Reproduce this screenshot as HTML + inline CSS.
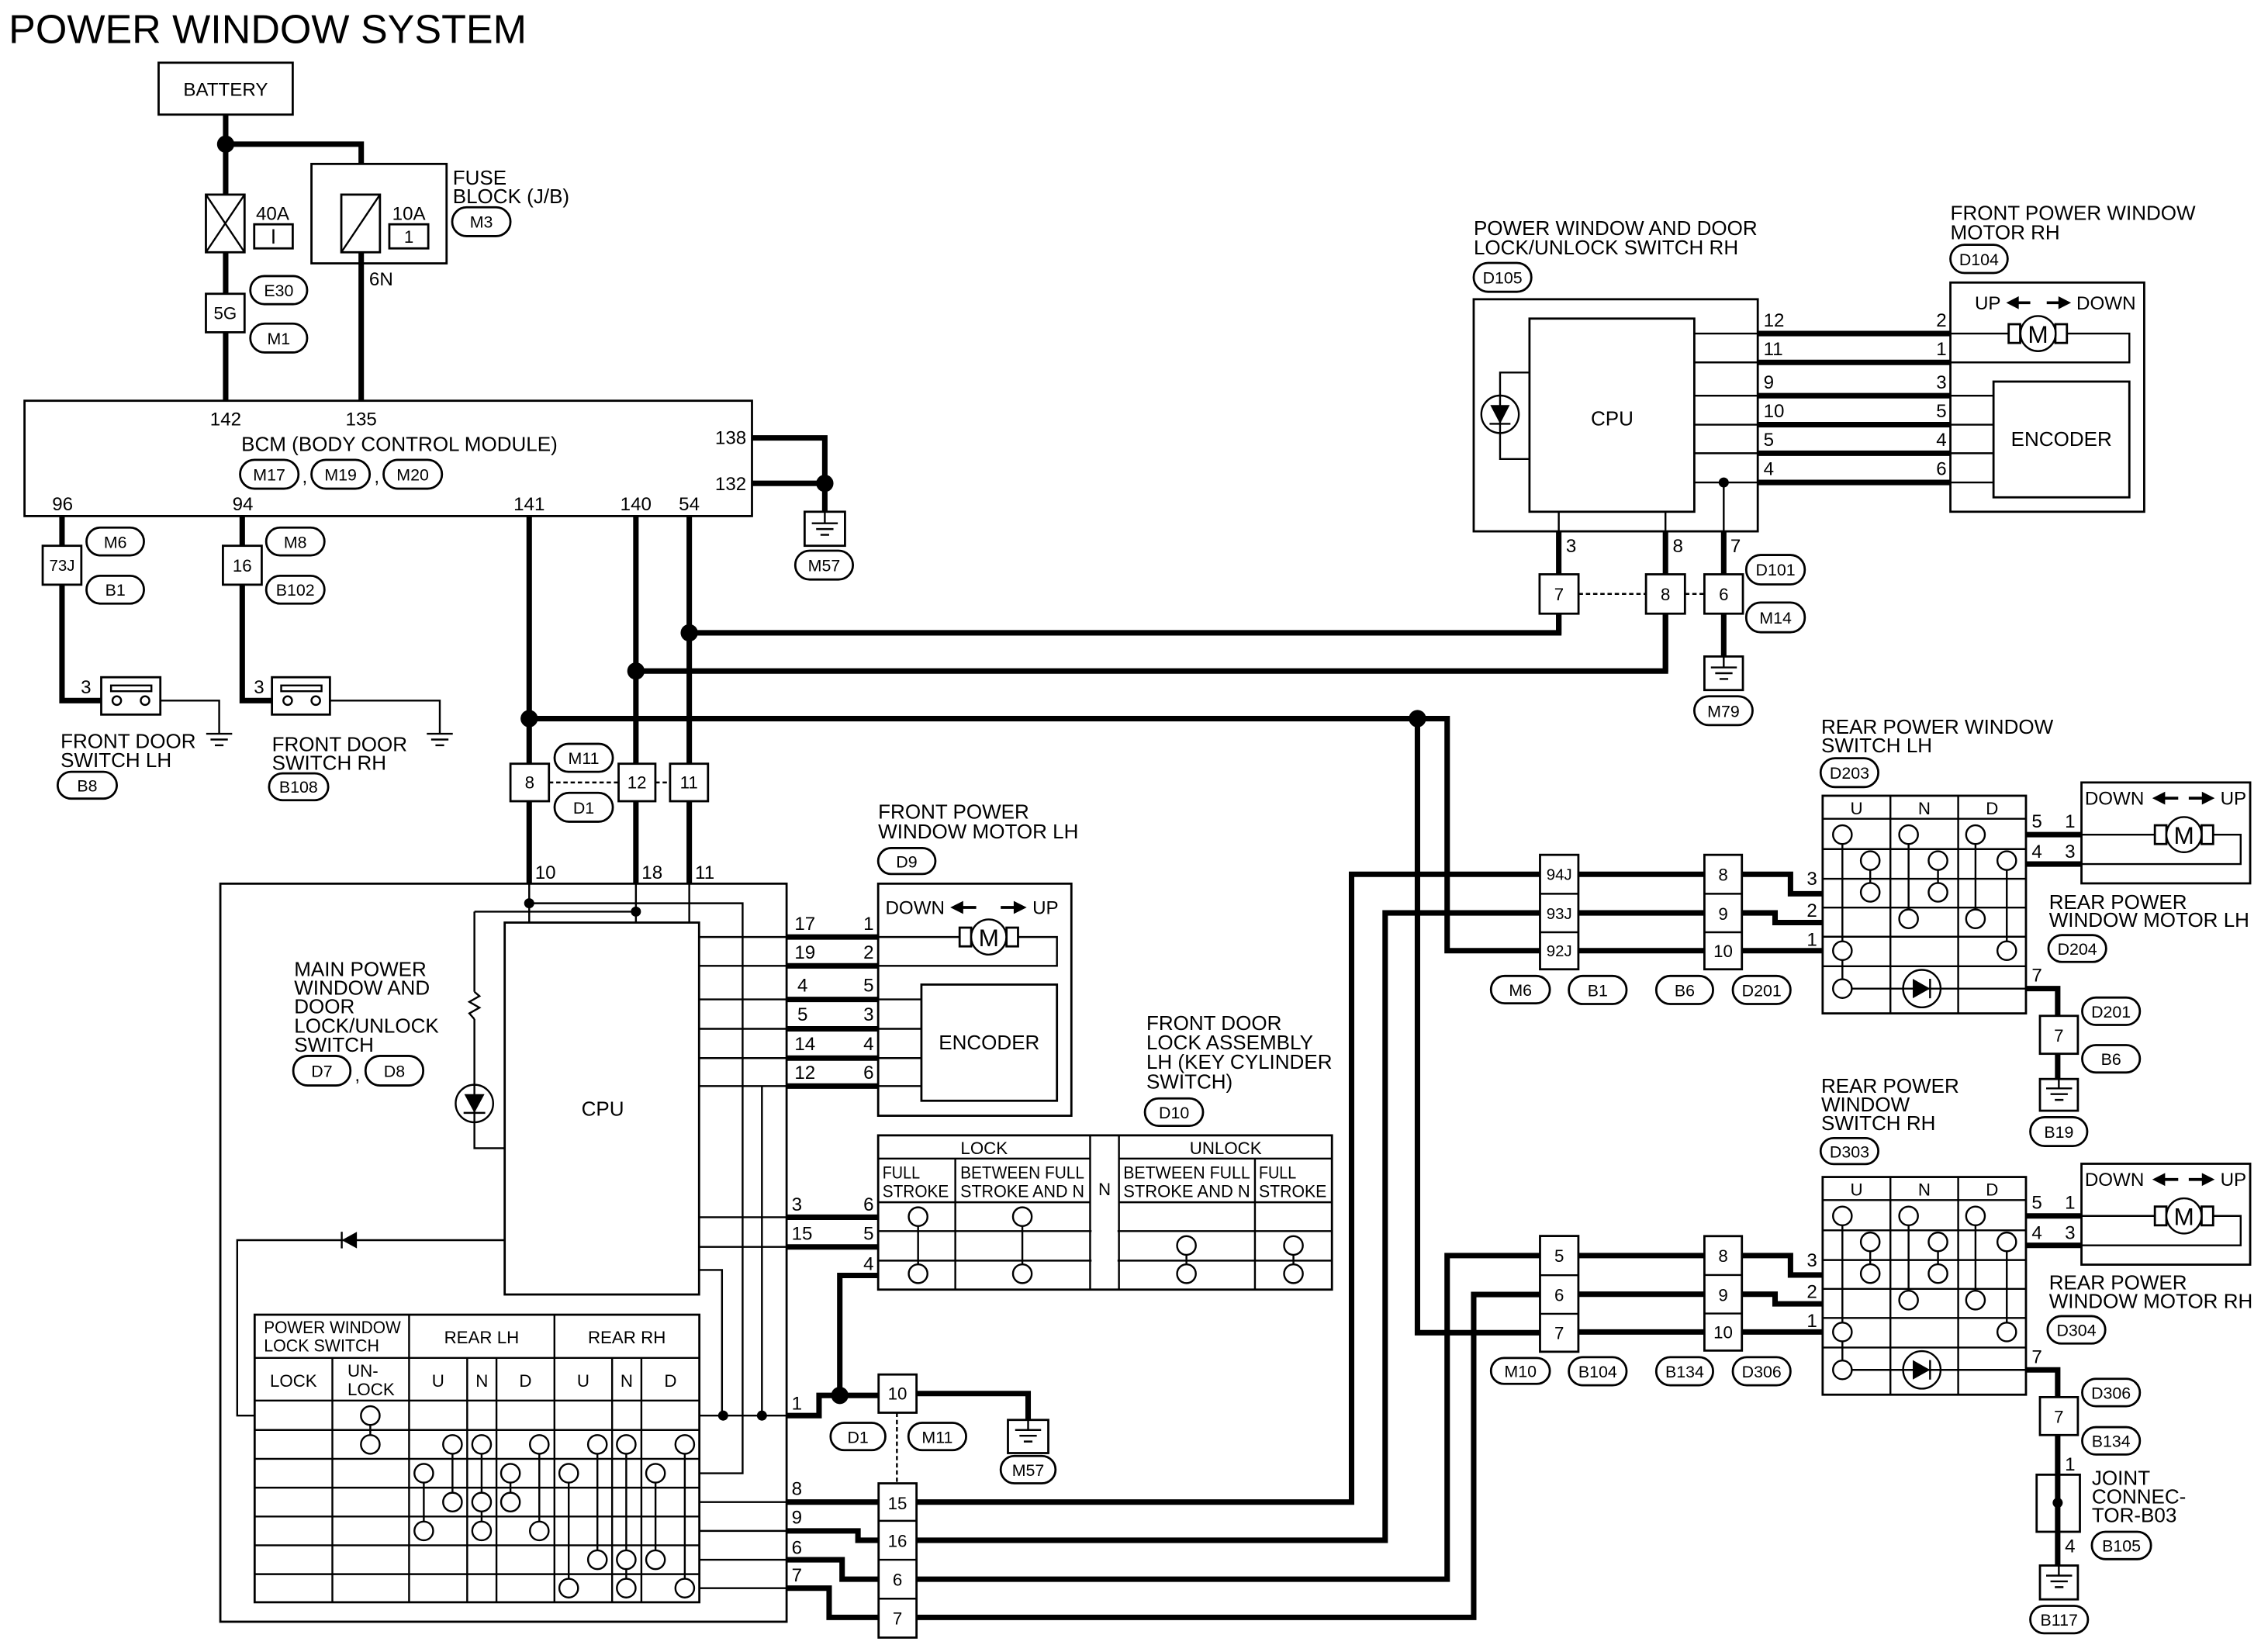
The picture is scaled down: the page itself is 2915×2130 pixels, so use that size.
<!DOCTYPE html>
<html><head><meta charset="utf-8"><style>
html,body{margin:0;padding:0;background:#fff}
svg{display:block}
text{font-family:"Liberation Sans",Arial,sans-serif;fill:#000}
.t{stroke:#000;stroke-width:1.3;fill:none}
.k{stroke:#000;stroke-width:3.8;fill:none}
.b{fill:#fff;stroke:#000;stroke-width:1.5}
.c{fill:#fff;stroke:#000;stroke-width:1.3}
.L{font-size:14px}
.p{font-size:13px}
.o{font-size:11.5px;text-anchor:middle}
.m{text-anchor:middle}
.e{text-anchor:end}
.s{font-size:12px}
</style></head><body>
<svg width="2915" height="2130" viewBox="0 0 1568 1146" preserveAspectRatio="none" xmlns="http://www.w3.org/2000/svg">
<rect x="0" y="0" width="1568" height="1146" fill="#fff"/>
<text x="6" y="30" font-size="28">POWER WINDOW SYSTEM</text>

<!-- Battery & fuses -->
<rect class="b" x="110" y="43.5" width="93" height="36"/>
<text class="p m" x="156.5" y="66.5">BATTERY</text>
<path class="k" d="M156.5 80V135M156.5 100H250.5V135"/>
<circle cx="156.5" cy="100" r="6"/>
<rect class="b" x="216" y="113.7" width="93.7" height="69"/>
<rect class="b" x="236.7" y="135" width="26.8" height="40"/>
<path class="t" d="M236.7 175L263.5 135"/>
<text class="p" x="272" y="152.6">10A</text>
<rect class="b" x="270" y="155.6" width="27" height="16.7"/>
<text class="s m" x="283.5" y="168.5">1</text>
<path class="k" d="M250.5 175V278"/>
<text class="p" x="256" y="198">6N</text>
<text class="L" x="314" y="128">FUSE</text>
<text class="L" x="314" y="141">BLOCK (J/B)</text>
<rect class="b" x="313.6" y="143.8" width="40.4" height="20" rx="10"/><text class="o" x="333.8" y="158">M3</text>
<rect class="b" x="142.8" y="135" width="26.8" height="40"/>
<path class="t" d="M142.8 135L169.6 175M169.6 135L142.8 175"/>
<text class="p" x="177.5" y="152.6">40A</text>
<rect class="b" x="176.3" y="155.6" width="26.7" height="16.7"/>
<path class="t" d="M189.6 159V169"/>
<path class="k" d="M156.5 175V204M156.5 230V278"/>
<rect class="b" x="142.8" y="203.8" width="26.8" height="26.7"/>
<text class="s m" x="156.2" y="221.5">5G</text>
<rect class="b" x="173.6" y="191.5" width="39.4" height="19.5" rx="9.7"/><text class="o" x="193.3" y="205.5">E30</text>
<rect class="b" x="173.6" y="224.5" width="39.4" height="20" rx="10"/><text class="o" x="193.3" y="238.8">M1</text>

<!-- BCM -->
<rect class="b" x="17" y="278" width="504.5" height="80"/>
<text class="p m" x="156.5" y="295">142</text>
<text class="p m" x="250.5" y="295">135</text>
<text class="L m" x="277" y="313">BCM (BODY CONTROL MODULE)</text>
<rect class="b" x="166.5" y="319" width="40.5" height="20" rx="10"/><text class="o" x="186.7" y="333.3">M17</text>
<text class="p" x="209.5" y="335">,</text>
<rect class="b" x="216" y="319" width="40.4" height="20" rx="10"/><text class="o" x="236.2" y="333.3">M19</text>
<text class="p" x="259.5" y="335">,</text>
<rect class="b" x="266" y="319" width="40.5" height="20" rx="10"/><text class="o" x="286.2" y="333.3">M20</text>
<text class="p e" x="517.6" y="308">138</text>
<text class="p e" x="517.6" y="340">132</text>
<path class="k" d="M521.5 303.8H572V335.3M521.5 335.3H572V355"/>
<circle cx="572" cy="335.3" r="6"/>
<rect class="b" x="558" y="355" width="28" height="23.6"/>
<path class="t" d="M572 355V363M563 363H581M566 367H578M569 371H575"/>
<rect class="b" x="551.5" y="382" width="40" height="20" rx="10"/><text class="o" x="571.5" y="396.3">M57</text>
<text class="p m" x="43.4" y="354">96</text>
<text class="p m" x="168.4" y="354">94</text>
<text class="p m" x="367" y="354">141</text>
<text class="p m" x="441" y="354">140</text>
<text class="p m" x="478" y="354">54</text>

<!-- door switch LH -->
<path class="k" d="M43 358V486H70.2"/>
<rect class="b" x="29.6" y="378.6" width="26.8" height="27"/>
<text class="m" font-size="11" x="43" y="396">73J</text>
<rect class="b" x="60" y="366" width="39.8" height="19.3" rx="9.6"/><text class="o" x="80" y="380">M6</text>
<rect class="b" x="60" y="399.4" width="39.8" height="19.3" rx="9.6"/><text class="o" x="80" y="413.3">B1</text>
<rect class="b" x="70.2" y="469.8" width="41" height="25.9"/>
<rect class="t" x="77" y="475.5" width="28" height="4"/>
<circle class="c" cx="81" cy="486" r="3"/><circle class="c" cx="100.6" cy="486" r="3"/>
<text class="p" x="56" y="481">3</text>
<path class="t" d="M111.2 486H152V509M143 509H161M146 513H158M149 517H155"/>
<text class="L" x="42" y="519">FRONT DOOR</text>
<text class="L" x="42" y="532">SWITCH LH</text>
<rect class="b" x="40" y="535.4" width="41" height="18.6" rx="9.3"/><text class="o" x="60.5" y="549">B8</text>
<!-- door switch RH -->
<path class="k" d="M168 358V486H188.6"/>
<rect class="b" x="154.6" y="378.6" width="26.9" height="27"/>
<text class="s m" x="168" y="396.5">16</text>
<rect class="b" x="184.6" y="366" width="40.4" height="19.3" rx="9.6"/><text class="o" x="204.8" y="380">M8</text>
<rect class="b" x="184.6" y="399.4" width="40.4" height="19.3" rx="9.6"/><text class="o" x="204.8" y="413.3">B102</text>
<rect class="b" x="188.6" y="469.8" width="40.2" height="25.9"/>
<rect class="t" x="195" y="475.5" width="28" height="4"/>
<circle class="c" cx="199.5" cy="486" r="3"/><circle class="c" cx="219" cy="486" r="3"/>
<text class="p" x="176" y="481">3</text>
<path class="t" d="M228.8 486H305V509M296 509H314M299 513H311M302 517H308"/>
<text class="L" x="188.6" y="521">FRONT DOOR</text>
<text class="L" x="188.6" y="534">SWITCH RH</text>
<rect class="b" x="186.6" y="536.5" width="41" height="18.6" rx="9.3"/><text class="o" x="207" y="550">B108</text>

<!-- trunk lines -->
<path class="k" d="M367 358V613M441 358V613M478 358V640"/>
<path class="k" d="M478 439H1081V425M441 465.5H1155V425M367 498.5H1003.6V659.5H1068M983 498.5V924.5H1068"/>
<circle cx="478" cy="439" r="6"/><circle cx="441" cy="465.5" r="6"/><circle cx="367" cy="498.5" r="6"/><circle cx="983" cy="498.5" r="6"/>
<rect class="b" x="354" y="529.8" width="26.7" height="26"/><text class="s m" x="367.3" y="547">8</text>
<rect class="b" x="429" y="529.8" width="25.5" height="26"/><text class="s m" x="441.7" y="547">12</text>
<rect class="b" x="464.7" y="529.8" width="26.3" height="26"/><text class="s m" x="477.8" y="547">11</text>
<path class="t" stroke-dasharray="3,2" d="M380.7 542.8H429M454.5 542.8H464.7"/>
<rect class="b" x="384.6" y="516" width="40.4" height="19.4" rx="9.7"/><text class="o" x="404.8" y="530">M11</text>
<rect class="b" x="384.6" y="550" width="40.4" height="20" rx="10"/><text class="o" x="404.8" y="564.3">D1</text>
<text class="p" x="371" y="609.5">10</text>
<text class="p" x="445" y="609.5">18</text>
<text class="p" x="482" y="609.5">11</text>

<!-- main switch -->
<rect class="b" x="152.8" y="613" width="392.7" height="512"/>
<path class="t" d="M367 613V640M441 613V640M478 613V640"/>
<rect class="b" x="350" y="640" width="134.8" height="258"/>
<text class="L m" x="418" y="774">CPU</text>
<circle cx="367" cy="626.6" r="3.5"/><circle cx="441" cy="632.4" r="3.5"/>
<path class="t" d="M367 626.6H515V1022H485M329 632.4H441M329 632.4V688"/>
<polyline class="t" points="329,688 332.5,691 325.5,695 332.5,699 325.5,703 329,707"/>
<path class="t" d="M329 707V796.5H350"/>
<circle class="c" cx="329" cy="765.5" r="13"/>
<path class="t" d="M329 752V779M321.5 772H336.5"/>
<polygon points="322,759 336,759 329,772"/>
<text class="L" x="204" y="677">MAIN POWER</text>
<text class="L" x="204" y="690">WINDOW AND</text>
<text class="L" x="204" y="703">DOOR</text>
<text class="L" x="204" y="716.5">LOCK/UNLOCK</text>
<text class="L" x="204" y="729.5">SWITCH</text>
<rect class="b" x="203.4" y="732.5" width="39.6" height="20.5" rx="10"/><text class="o" x="223.2" y="747">D7</text>
<text class="p" x="246" y="750">,</text>
<rect class="b" x="253.5" y="732.5" width="40" height="20.5" rx="10"/><text class="o" x="273.5" y="747">D8</text>
<!-- CPU right pins -->
<path class="t" d="M484.8 650H545.5M484.8 670H545.5M484.8 693.3H545.5M484.8 713.7H545.5M484.8 734H545.5M484.8 753.4H545.5M528.4 753.4V982M484.8 881H500.7V982M484.8 844.4H545.5M484.8 865H545.5"/>
<path class="k" d="M545.5 650H609M545.5 670H609M545.5 693.3H609M545.5 713.7H609M545.5 734H609M545.5 753.4H609M545.5 844.4H609M545.5 865H609"/>
<text class="p" x="551" y="645">17</text><text class="p e" x="606" y="645">1</text>
<text class="p" x="551" y="665">19</text><text class="p e" x="606" y="665">2</text>
<text class="p" x="553" y="688">4</text><text class="p e" x="606" y="688">5</text>
<text class="p" x="553" y="708">5</text><text class="p e" x="606" y="708">3</text>
<text class="p" x="551" y="728.5">14</text><text class="p e" x="606" y="728.5">4</text>
<text class="p" x="551" y="748.5">12</text><text class="p e" x="606" y="748.5">6</text>
<text class="p" x="549" y="840">3</text><text class="p e" x="606" y="840">6</text>
<text class="p" x="549" y="860">15</text><text class="p e" x="606" y="860">5</text>
<text class="p e" x="606" y="881">4</text>
<!-- diode row -->
<path class="t" d="M350 860.3H164.5V982H176.6"/>
<polygon points="237,860.3 247.5,854.5 247.5,866"/>
<path class="t" d="M237 854.5V866"/>
<!-- table -->
<rect class="b" x="176.6" y="912" width="308.4" height="199.5"/>
<path class="t" d="M176.6 942H485M176.6 971.6H485M176.6 992H485M176.6 1012H485M176.6 1032H485M176.6 1052H485M176.6 1072H485M176.6 1092H485M283.7 912V1111.5M384.5 912V1111.5M230.5 942V1111.5M324 942V1111.5M344.3 942V1111.5M424.5 942V1111.5M444.8 942V1111.5"/>
<text class="s" x="183" y="925" textLength="95" lengthAdjust="spacingAndGlyphs">POWER WINDOW</text>
<text class="s" x="183" y="937.5" textLength="80" lengthAdjust="spacingAndGlyphs">LOCK SWITCH</text>
<text class="s m" x="334" y="932">REAR LH</text>
<text class="s m" x="434.7" y="932">REAR RH</text>
<text class="s m" x="203.5" y="962">LOCK</text>
<text class="s" x="241" y="955">UN-</text>
<text class="s" x="241" y="968">LOCK</text>
<text class="s m" x="303.8" y="962">U</text><text class="s m" x="334.2" y="962">N</text><text class="s m" x="364.4" y="962">D</text>
<text class="s m" x="404.5" y="962">U</text><text class="s m" x="434.6" y="962">N</text><text class="s m" x="465" y="962">D</text>
<path class="t" d="M256.8 982V1002M293.9 1022V1062M313.8 1002V1042M334 1002V1062M354 1022V1042M374 1002V1062M394.4 1022V1101.7M414.3 1002V1082M434.3 1002V1101.7M454.6 1022V1082M474.9 1002V1101.7"/>
<g class="c">
<circle cx="256.8" cy="982" r="6.5"/><circle cx="256.8" cy="1002" r="6.5"/>
<circle cx="293.9" cy="1022" r="6.5"/><circle cx="293.9" cy="1062" r="6.5"/>
<circle cx="313.8" cy="1002" r="6.5"/><circle cx="313.8" cy="1042" r="6.5"/>
<circle cx="334" cy="1002" r="6.5"/><circle cx="334" cy="1042" r="6.5"/><circle cx="334" cy="1062" r="6.5"/>
<circle cx="354" cy="1022" r="6.5"/><circle cx="354" cy="1042" r="6.5"/>
<circle cx="374" cy="1002" r="6.5"/><circle cx="374" cy="1062" r="6.5"/>
<circle cx="394.4" cy="1022" r="6.5"/><circle cx="394.4" cy="1101.7" r="6.5"/>
<circle cx="414.3" cy="1002" r="6.5"/><circle cx="414.3" cy="1082" r="6.5"/>
<circle cx="434.3" cy="1002" r="6.5"/><circle cx="434.3" cy="1082" r="6.5"/><circle cx="434.3" cy="1101.7" r="6.5"/>
<circle cx="454.6" cy="1022" r="6.5"/><circle cx="454.6" cy="1082" r="6.5"/>
<circle cx="474.9" cy="1002" r="6.5"/><circle cx="474.9" cy="1101.7" r="6.5"/>
</g>
<!-- table outputs -->
<path class="t" d="M485 982H546M485 1042H546M485 1062H546M485 1082H546M485 1101.7H546"/>
<circle cx="501.5" cy="982" r="3.5"/><circle cx="528.4" cy="982" r="3.5"/>
<path class="k" d="M546 982H568V968H609M609 884.8H582.4V968"/>
<circle cx="582.4" cy="968" r="6"/>
<text class="p" x="549" y="978">1</text>
<rect class="b" x="609.3" y="953.5" width="26.3" height="26.5"/><text class="s m" x="622.4" y="971">10</text>
<path class="k" d="M635.6 966.7H713V985"/>
<rect class="b" x="699" y="985" width="28" height="23"/>
<path class="t" d="M713 985V992M704 992H722M707 996H719M710 1000H716"/>
<rect class="b" x="694" y="1010" width="38" height="19" rx="9.5"/><text class="o" x="713" y="1023.8">M57</text>
<rect class="b" x="576" y="987" width="38" height="19" rx="9.5"/><text class="o" x="595" y="1001">D1</text>
<rect class="b" x="630" y="987" width="40" height="19" rx="9.5"/><text class="o" x="650" y="1001">M11</text>
<path class="t" stroke-dasharray="3,2" d="M622 980V1029"/>
<path class="k" d="M546 1042H609M546 1062H595V1068.5H609M546 1082H584V1095.5H609M546 1101.7H575V1122H609"/>
<text class="p" x="549" y="1037">8</text><text class="p" x="549" y="1057">9</text><text class="p" x="549" y="1078">6</text><text class="p" x="549" y="1097">7</text>
<rect class="b" x="609.3" y="1029" width="26.3" height="107"/>
<path class="t" d="M609.3 1055H635.6M609.3 1082H635.6M609.3 1109H635.6"/>
<text class="s m" x="622.4" y="1047">15</text><text class="s m" x="622.4" y="1073">16</text><text class="s m" x="622.4" y="1100">6</text><text class="s m" x="622.4" y="1127">7</text>
<path class="k" d="M635.6 1042H937.3V606.5H1068M635.6 1068.5H960.6V633.3H1068M635.6 1095.5H1003.6V871H1068M635.6 1122H1022V898H1068"/>

<!-- front power window motor LH -->
<text class="L" x="609" y="568">FRONT POWER</text>
<text class="L" x="609" y="581.5">WINDOW MOTOR LH</text>
<rect class="b" x="609" y="588.3" width="39.7" height="18" rx="9"/><text class="o" x="628.8" y="601.8">D9</text>
<rect class="b" x="609" y="613" width="134" height="161"/>
<text class="p" x="614" y="634">DOWN</text>
<polygon points="659,629.5 668,625 668,634"/><path d="M667 629.5H677" stroke="#000" stroke-width="2"/>
<path d="M694 629.5H704" stroke="#000" stroke-width="2"/><polygon points="712,629.5 703,625 703,634"/>
<text class="p" x="716" y="634">UP</text>
<path class="t" d="M609 650H665.5M706 650H733V670H609"/>
<rect class="b" x="665.5" y="643.5" width="8" height="13"/><rect class="b" x="698" y="643.5" width="8" height="13"/>
<circle class="c" cx="685.7" cy="650" r="12.2"/>
<text class="m" font-size="17" x="685.7" y="656.5">M</text>
<rect class="b" x="639" y="683" width="94" height="80.6"/>
<text class="L m" x="686" y="728">ENCODER</text>
<path class="t" d="M609 693.3H639M609 713.7H639M609 734H639M609 753.4H639"/>

<!-- D10 -->
<text class="L" x="795" y="714.5">FRONT DOOR</text>
<text class="L" x="795" y="728">LOCK ASSEMBLY</text>
<text class="L" x="795" y="741.5">LH (KEY CYLINDER</text>
<text class="L" x="795" y="755">SWITCH)</text>
<rect class="b" x="794" y="762" width="40.3" height="19" rx="9.5"/><text class="o" x="814.2" y="775.8">D10</text>
<rect class="b" x="609" y="787.6" width="314.7" height="107"/>
<path class="t" d="M609 803.7H756M776 803.7H923.7M609 834H756M776 834H923.7M609 854H923.7M609 874.5H923.7M662.5 803.7V894.5M870.3 803.7V894.5M756 787.6V894.5M776 787.6V894.5"/>
<rect x="757" y="835" width="18" height="58" fill="#fff"/>
<text class="s m" x="682.5" y="800.5">LOCK</text>
<text class="s m" x="850" y="800.5">UNLOCK</text>
<text class="s" x="612" y="817.5" textLength="26" lengthAdjust="spacingAndGlyphs">FULL</text>
<text class="s" x="612" y="830.5" textLength="46" lengthAdjust="spacingAndGlyphs">STROKE</text>
<text class="s" x="666" y="817.5" textLength="86" lengthAdjust="spacingAndGlyphs">BETWEEN FULL</text>
<text class="s" x="666" y="830.5" textLength="86" lengthAdjust="spacingAndGlyphs">STROKE AND N</text>
<text class="s m" x="766" y="829">N</text>
<text class="s" x="779" y="817.5" textLength="88" lengthAdjust="spacingAndGlyphs">BETWEEN FULL</text>
<text class="s" x="779" y="830.5" textLength="88" lengthAdjust="spacingAndGlyphs">STROKE AND N</text>
<text class="s" x="873" y="817.5" textLength="26" lengthAdjust="spacingAndGlyphs">FULL</text>
<text class="s" x="873" y="830.5" textLength="47" lengthAdjust="spacingAndGlyphs">STROKE</text>
<path class="t" d="M636.7 844V883.6M709 844V883.6M822.8 864V883.6M897 864V883.6"/>
<g class="c">
<circle cx="636.7" cy="844" r="6.5"/><circle cx="636.7" cy="883.6" r="6.5"/>
<circle cx="709" cy="844" r="6.5"/><circle cx="709" cy="883.6" r="6.5"/>
<circle cx="822.8" cy="864" r="6.5"/><circle cx="822.8" cy="883.6" r="6.5"/>
<circle cx="897" cy="864" r="6.5"/><circle cx="897" cy="883.6" r="6.5"/>
</g>

<!-- D105 RH switch -->
<text class="L" x="1022" y="163">POWER WINDOW AND DOOR</text>
<text class="L" x="1022" y="176.5">LOCK/UNLOCK SWITCH RH</text>
<rect class="b" x="1022" y="182.4" width="40" height="20" rx="10"/><text class="o" x="1042" y="196.7">D105</text>
<rect class="b" x="1022" y="207.6" width="197" height="161"/>
<rect class="b" x="1060.7" y="221" width="114.3" height="134"/>
<text class="L m" x="1118" y="295">CPU</text>
<path class="t" d="M1060.7 258.4H1040.3V318.4H1060.7"/>
<circle class="c" cx="1040.3" cy="287.4" r="13"/>
<path class="t" d="M1040.3 274V301M1033 294H1047.5"/>
<polygon points="1033.5,281 1047,281 1040.3,294"/>
<path class="t" d="M1175 231.4H1219M1175 251.4H1219M1175 274.5H1219M1175 294.6H1219M1175 314.4H1219M1175 334.7H1219M1195.4 334.7V368.5M1081 355V368.5M1155 355V368.5"/>
<circle cx="1195.4" cy="334.7" r="3.5"/>
<path class="k" d="M1219 231.4H1352.6M1219 251.4H1352.6M1219 274.5H1352.6M1219 294.6H1352.6M1219 314.4H1352.6M1219 334.7H1352.6"/>
<text class="p" x="1223" y="226.5">12</text><text class="p e" x="1350" y="226.5">2</text>
<text class="p" x="1223" y="246.5">11</text><text class="p e" x="1350" y="246.5">1</text>
<text class="p" x="1223" y="269.5">9</text><text class="p e" x="1350" y="269.5">3</text>
<text class="p" x="1223" y="289.5">10</text><text class="p e" x="1350" y="289.5">5</text>
<text class="p" x="1223" y="309.5">5</text><text class="p e" x="1350" y="309.5">4</text>
<text class="p" x="1223" y="329.5">4</text><text class="p e" x="1350" y="329.5">6</text>
<path class="k" d="M1081 368.5V398.4M1155 368.5V398.4M1195.4 368.5V398.4M1081 425.7V440M1155 425.7V466M1195.4 425.7V455.4"/>
<text class="p" x="1086" y="383">3</text><text class="p" x="1160" y="383">8</text><text class="p" x="1200" y="383">7</text>
<rect class="b" x="1067.7" y="398.4" width="27" height="27.3"/><text class="s m" x="1081.2" y="416.5">7</text>
<rect class="b" x="1141.5" y="398.4" width="27" height="27.3"/><text class="s m" x="1155" y="416.5">8</text>
<rect class="b" x="1182" y="398.4" width="26.7" height="27.3"/><text class="s m" x="1195.4" y="416.5">6</text>
<path class="t" stroke-dasharray="3,2" d="M1094.8 412H1141.5M1168.6 412H1182"/>
<rect class="b" x="1211" y="385" width="40.6" height="20.4" rx="10"/><text class="o" x="1231.3" y="399.3">D101</text>
<rect class="b" x="1211" y="418" width="40.6" height="20.6" rx="10"/><text class="o" x="1231.3" y="432.5">M14</text>
<rect class="b" x="1182" y="455.4" width="26.7" height="23.3"/>
<path class="t" d="M1195.4 455.4V463M1186.5 463H1204.5M1189.5 467H1201.5M1192.5 471H1198.5"/>
<rect class="b" x="1175" y="483" width="40.4" height="20" rx="10"/><text class="o" x="1195.2" y="497.3">M79</text>

<!-- Front motor RH -->
<text class="L" x="1352.6" y="152.5">FRONT POWER WINDOW</text>
<text class="L" x="1352.6" y="166">MOTOR RH</text>
<rect class="b" x="1352.6" y="169.8" width="39.7" height="19.6" rx="9.8"/><text class="o" x="1372.4" y="184">D104</text>
<rect class="b" x="1352.6" y="196" width="134.4" height="159"/>
<text class="p" x="1369.5" y="214.6">UP</text>
<polygon points="1391.3,210 1400,205.5 1400,214.5"/><path d="M1399 210H1408" stroke="#000" stroke-width="2"/>
<path d="M1419.4 210H1428" stroke="#000" stroke-width="2"/><polygon points="1436.3,210 1427.5,205.5 1427.5,214.5"/>
<text class="p" x="1440" y="214.6">DOWN</text>
<path class="t" d="M1352.6 231.4H1393M1433.4 231.4H1476.7V251.4H1352.6"/>
<rect class="b" x="1393" y="224.9" width="8" height="13"/><rect class="b" x="1425.4" y="224.9" width="8" height="13"/>
<circle class="c" cx="1413.4" cy="231.4" r="12.2"/>
<text class="m" font-size="17" x="1413.4" y="237.8">M</text>
<rect class="b" x="1382.5" y="264.7" width="94.2" height="80.3"/>
<text class="L m" x="1429.6" y="309.5">ENCODER</text>
<path class="t" d="M1352.6 274.5H1382.5M1352.6 294.6H1382.5M1352.6 314.4H1382.5M1352.6 334.7H1382.5"/>

<!-- Rear LH -->
<text class="L" x="1263" y="509">REAR POWER WINDOW</text>
<text class="L" x="1263" y="522">SWITCH LH</text>
<rect class="b" x="1262.6" y="526" width="40" height="20" rx="10"/><text class="o" x="1282.6" y="540.3">D203</text>
<text class="L" x="1421" y="630.5">REAR POWER</text>
<text class="L" x="1421" y="643">WINDOW MOTOR LH</text>
<rect class="b" x="1420.6" y="648.7" width="40" height="18.6" rx="9.3"/><text class="o" x="1440.6" y="662.3">D204</text>
<rect class="b" x="1034" y="677" width="40.8" height="19" rx="9.5"/><text class="o" x="1054.4" y="690.8">M6</text>
<rect class="b" x="1088" y="677" width="40" height="19.5" rx="9.7"/><text class="o" x="1108" y="691">B1</text>
<rect class="b" x="1148.6" y="677" width="39.4" height="19.5" rx="9.7"/><text class="o" x="1168.3" y="691">B6</text>
<rect class="b" x="1201.7" y="677" width="40" height="19.5" rx="9.7"/><text class="o" x="1221.7" y="691">D201</text>
<rect class="b" x="1068" y="593" width="26.6" height="79.4"/>
<path class="t" d="M1068 620H1094.6M1068 646.7H1094.6"/>
<text class="m" font-size="11" x="1081.3" y="610.5">94J</text><text class="m" font-size="11" x="1081.3" y="637.5">93J</text><text class="m" font-size="11" x="1081.3" y="663.5">92J</text>
<path class="k" d="M1427 731V748.5"/>
<rect class="b" x="1414.7" y="748.5" width="26.3" height="22"/>
<path class="t" d="M1427.8 748.5V755M1419 755H1437M1422 759H1434M1425 763H1431"/>
<rect class="b" x="1408" y="775" width="39.5" height="20" rx="10"/><text class="o" x="1427.8" y="789.3">B19</text>
<rect class="b" x="1444" y="692" width="40" height="19" rx="9.5"/><text class="o" x="1464" y="705.8">D201</text>
<rect class="b" x="1444" y="725" width="40" height="19" rx="9.5"/><text class="o" x="1464" y="738.8">B6</text>

<g id="rl">
<path class="k" d="M1094.6 606.5H1182M1094.6 633.3H1182M1094.6 659.5H1182M1208 606.5H1241.7V620H1264M1208 633.3H1231V640H1264M1208 659.5H1264"/>
<rect class="b" x="1182" y="593" width="26" height="79.4"/>
<path class="t" d="M1182 620H1208M1182 646.7H1208"/>
<text class="s m" x="1195" y="611">8</text><text class="s m" x="1195" y="638">9</text><text class="s m" x="1195" y="664">10</text>
<text class="p" x="1253" y="614">3</text><text class="p" x="1253" y="636">2</text><text class="p" x="1253" y="656">1</text>
<rect class="b" x="1264" y="552" width="141" height="151"/>
<path class="t" d="M1264 568H1405M1264 589H1405M1264 609.6H1405M1264 629.6H1405M1264 649.8H1405M1264 670.3H1405M1311 552V703M1358 552V703"/>
<text class="s m" x="1287.5" y="565">U</text><text class="s m" x="1334.5" y="565">N</text><text class="s m" x="1381.5" y="565">D</text>
<path class="t" d="M1277.7 579V685.8M1297 597V619M1323.6 579V637.4M1344 597V619M1370 579V637.4M1391.7 597V659.5M1277.7 685.8H1405"/>
<g class="c">
<circle cx="1277.7" cy="579" r="6.5"/><circle cx="1277.7" cy="659.5" r="6.5"/><circle cx="1277.7" cy="685.8" r="6.5"/>
<circle cx="1297" cy="597" r="6.5"/><circle cx="1297" cy="619" r="6.5"/>
<circle cx="1323.6" cy="579" r="6.5"/><circle cx="1323.6" cy="637.4" r="6.5"/>
<circle cx="1344" cy="597" r="6.5"/><circle cx="1344" cy="619" r="6.5"/>
<circle cx="1370" cy="579" r="6.5"/><circle cx="1370" cy="637.4" r="6.5"/>
<circle cx="1391.7" cy="597" r="6.5"/><circle cx="1391.7" cy="659.5" r="6.5"/>
<circle cx="1332.8" cy="685.8" r="13"/>
</g>
<path class="t" d="M1319.8 685.8H1345.8M1338.5 679V692.5"/>
<polygon points="1326.5,679 1326.5,692.5 1338.5,685.8"/>
<rect class="b" x="1443.5" y="542.8" width="117" height="70"/>
<text class="p" x="1445.8" y="558.2">DOWN</text>
<polygon points="1492.6,553.7 1501.5,549.2 1501.5,558.2"/><path d="M1500.5 553.7H1510.6" stroke="#000" stroke-width="2"/>
<path d="M1517.9 553.7H1528" stroke="#000" stroke-width="2"/><polygon points="1535.9,553.7 1527,549.2 1527,558.2"/>
<text class="p" x="1539.8" y="558.2">UP</text>
<path class="k" d="M1405 579H1443.5M1405 599.4H1443.5M1405 685.8H1427V704.7"/>
<path class="t" d="M1443.5 579H1494.6M1534.6 579H1553.9V599.4H1443.5"/>
<rect class="b" x="1494.4" y="572.5" width="8" height="13"/><rect class="b" x="1526.8" y="572.5" width="8" height="13"/>
<circle class="c" cx="1514.6" cy="579" r="12.2"/>
<text class="m" font-size="17" x="1514.6" y="585.4">M</text>
<text class="p" x="1409" y="574">5</text><text class="p" x="1432" y="574">1</text>
<text class="p" x="1409" y="595">4</text><text class="p" x="1432" y="595">3</text>
<text class="p" x="1409" y="681">7</text>
<rect class="b" x="1414.7" y="704.7" width="26.3" height="26.3"/><text class="s m" x="1427.8" y="722.5">7</text>
</g>

<!-- Rear RH -->
<g transform="translate(0,264.5)">
<path class="k" d="M1094.6 606.5H1182M1094.6 633.3H1182M1094.6 659.5H1182M1208 606.5H1241.7V620H1264M1208 633.3H1231V640H1264M1208 659.5H1264"/>
<rect class="b" x="1182" y="593" width="26" height="79.4"/>
<path class="t" d="M1182 620H1208M1182 646.7H1208"/>
<text class="s m" x="1195" y="611">8</text><text class="s m" x="1195" y="638">9</text><text class="s m" x="1195" y="664">10</text>
<text class="p" x="1253" y="614">3</text><text class="p" x="1253" y="636">2</text><text class="p" x="1253" y="656">1</text>
<rect class="b" x="1264" y="552" width="141" height="151"/>
<path class="t" d="M1264 568H1405M1264 589H1405M1264 609.6H1405M1264 629.6H1405M1264 649.8H1405M1264 670.3H1405M1311 552V703M1358 552V703"/>
<text class="s m" x="1287.5" y="565">U</text><text class="s m" x="1334.5" y="565">N</text><text class="s m" x="1381.5" y="565">D</text>
<path class="t" d="M1277.7 579V685.8M1297 597V619M1323.6 579V637.4M1344 597V619M1370 579V637.4M1391.7 597V659.5M1277.7 685.8H1405"/>
<g class="c">
<circle cx="1277.7" cy="579" r="6.5"/><circle cx="1277.7" cy="659.5" r="6.5"/><circle cx="1277.7" cy="685.8" r="6.5"/>
<circle cx="1297" cy="597" r="6.5"/><circle cx="1297" cy="619" r="6.5"/>
<circle cx="1323.6" cy="579" r="6.5"/><circle cx="1323.6" cy="637.4" r="6.5"/>
<circle cx="1344" cy="597" r="6.5"/><circle cx="1344" cy="619" r="6.5"/>
<circle cx="1370" cy="579" r="6.5"/><circle cx="1370" cy="637.4" r="6.5"/>
<circle cx="1391.7" cy="597" r="6.5"/><circle cx="1391.7" cy="659.5" r="6.5"/>
<circle cx="1332.8" cy="685.8" r="13"/>
</g>
<path class="t" d="M1319.8 685.8H1345.8M1338.5 679V692.5"/>
<polygon points="1326.5,679 1326.5,692.5 1338.5,685.8"/>
<rect class="b" x="1443.5" y="542.8" width="117" height="70"/>
<text class="p" x="1445.8" y="558.2">DOWN</text>
<polygon points="1492.6,553.7 1501.5,549.2 1501.5,558.2"/><path d="M1500.5 553.7H1510.6" stroke="#000" stroke-width="2"/>
<path d="M1517.9 553.7H1528" stroke="#000" stroke-width="2"/><polygon points="1535.9,553.7 1527,549.2 1527,558.2"/>
<text class="p" x="1539.8" y="558.2">UP</text>
<path class="k" d="M1405 579H1443.5M1405 599.4H1443.5M1405 685.8H1427V704.7"/>
<path class="t" d="M1443.5 579H1494.6M1534.6 579H1553.9V599.4H1443.5"/>
<rect class="b" x="1494.4" y="572.5" width="8" height="13"/><rect class="b" x="1526.8" y="572.5" width="8" height="13"/>
<circle class="c" cx="1514.6" cy="579" r="12.2"/>
<text class="m" font-size="17" x="1514.6" y="585.4">M</text>
<text class="p" x="1409" y="574">5</text><text class="p" x="1432" y="574">1</text>
<text class="p" x="1409" y="595">4</text><text class="p" x="1432" y="595">3</text>
<text class="p" x="1409" y="681">7</text>
<rect class="b" x="1414.7" y="704.7" width="26.3" height="26.3"/><text class="s m" x="1427.8" y="722.5">7</text>
</g>
<rect class="b" x="1068" y="857.4" width="26.6" height="80.3"/>
<path class="t" d="M1068 884.6H1094.6M1068 911.4H1094.6"/>
<text class="s m" x="1081.3" y="875.5">5</text><text class="s m" x="1081.3" y="902.5">6</text><text class="s m" x="1081.3" y="929">7</text>
<text class="L" x="1263" y="758">REAR POWER</text>
<text class="L" x="1263" y="771">WINDOW</text>
<text class="L" x="1263" y="784">SWITCH RH</text>
<rect class="b" x="1262.6" y="789.5" width="40" height="18" rx="9"/><text class="o" x="1282.6" y="803">D303</text>
<text class="L" x="1421" y="894.5">REAR POWER</text>
<text class="L" x="1421" y="907.5">WINDOW MOTOR RH</text>
<rect class="b" x="1420" y="913" width="40" height="19" rx="9.5"/><text class="o" x="1440" y="926.8">D304</text>
<rect class="b" x="1034" y="942" width="40.8" height="18" rx="9"/><text class="o" x="1054.4" y="955.3">M10</text>
<rect class="b" x="1088" y="941.5" width="40" height="19.5" rx="9.7"/><text class="o" x="1108" y="955.5">B104</text>
<rect class="b" x="1148.6" y="941.5" width="39.4" height="19.5" rx="9.7"/><text class="o" x="1168.3" y="955.5">B134</text>
<rect class="b" x="1201.7" y="941.5" width="40" height="19.5" rx="9.7"/><text class="o" x="1221.7" y="955.5">D306</text>
<rect class="b" x="1444" y="956.5" width="40" height="19" rx="9.5"/><text class="o" x="1464" y="970.3">D306</text>
<rect class="b" x="1444" y="990" width="40" height="19" rx="9.5"/><text class="o" x="1464" y="1003.8">B134</text>
<path class="k" d="M1427 995.5V1086"/>
<text class="p" x="1432" y="1020">1</text>
<rect class="b" x="1412.4" y="1023" width="30" height="39.6"/>
<path class="k" d="M1427 1023V1062.6"/>
<circle cx="1427" cy="1042.5" r="3.5"/>
<text class="p" x="1432" y="1077">4</text>
<text class="L" x="1450.7" y="1030">JOINT</text>
<text class="L" x="1450.7" y="1043">CONNEC-</text>
<text class="L" x="1450.7" y="1056">TOR-B03</text>
<rect class="b" x="1450.7" y="1062.6" width="41" height="19" rx="9.5"/><text class="o" x="1471.2" y="1076.4">B105</text>
<rect class="b" x="1414.7" y="1086" width="26.3" height="23.5"/>
<path class="t" d="M1427.8 1086V1093M1419 1093H1437M1422 1097H1434M1425 1101H1431"/>
<rect class="b" x="1408" y="1114" width="40" height="19" rx="9.5"/><text class="o" x="1428" y="1127.8">B117</text>
</svg>
</body></html>
